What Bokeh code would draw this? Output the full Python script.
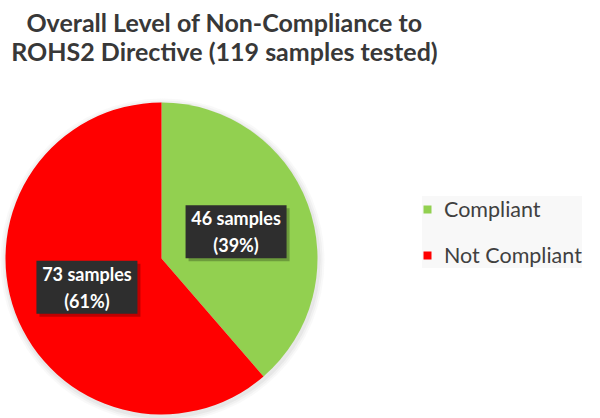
import math
from bokeh.plotting import figure
from bokeh.models import Range1d, ColumnDataSource, Legend, LegendItem
from bokeh.core.properties import value
from bokeh.embed import file_html
from bokeh.resources import INLINE

# ---- data ----
categories = ["Compliant", "Not Compliant"]
counts = [46, 73]
percents = [39, 61]
colors = ["#92D050", "#FF0000"]
title_lines = ["Overall Level of Non-Compliance to",
               "ROHS2 Directive (119 samples tested)"]

# ---- layout (page pixels; y measured upward from page bottom 418) ----
W, H = 600, 418
p = figure(width=W, height=H, output_backend="svg", toolbar_location=None,
           x_range=Range1d(0, W), y_range=Range1d(0, H),
           min_border=0, outline_line_color=None)
p.axis.visible = False
p.grid.visible = False
p.background_fill_color = "white"

cx, cy, R = 161, 418 - 258, 156

# angles: start at 12 o'clock, clockwise
total = sum(counts)
starts, ends, mids = [], [], []
a = math.pi / 2
for c in counts:
    span = 2 * math.pi * c / total
    starts.append(a - span)
    ends.append(a)
    mids.append(a - span / 2)
    a -= span

# soft shadow around pie
for k, al in [(6, 0.05), (4, 0.07), (2, 0.09)]:
    p.circle(x=[cx + 1], y=[cy - 2], radius=R + k, fill_color="#888888",
             fill_alpha=al, line_color=None)

src = ColumnDataSource(dict(x=[cx] * len(counts), y=[cy] * len(counts),
                            start=starts, end=ends, color=colors,
                            cat=categories))
wr = p.wedge(x="x", y="y", radius=R, start_angle="start", end_angle="end",
             fill_color="color", line_color=None, source=src)

# data labels
lr = 0.51 * R
lx = [cx + lr * math.cos(m) for m in mids]
ly = [cy + lr * math.sin(m) - 1 for m in mids]
ltext = [f"{c} samples\n({pc}%)" for c, pc in zip(counts, percents)]
p.rect(x=[v + 3 for v in lx], y=[v - 3 for v in ly], width=101, height=53,
       fill_color="black", fill_alpha=0.25, line_color=None)
p.rect(x=lx, y=ly, width=101, height=53, fill_color="#2e2e2e",
       line_color=None)
p.text(x=lx, y=ly, text=ltext, text_align="center", text_baseline="middle",
       text_font=value("Lato"), text_font_style="bold",
       text_font_size="18px", text_color="white", text_line_height=1.25)

# title
p.text(x=[224, 224], y=[418 - 21, 418 - 50], text=title_lines,
       text_align="center", text_baseline="alphabetic",
       text_font=value("Lato"), text_font_style="bold",
       text_font_size="25px", text_color="#383838")

# legend
items = [LegendItem(label=categories[i], renderers=[wr], index=i)
         for i in range(len(categories))]
legend = Legend(items=items, location=(422, 150), orientation="vertical",
                glyph_width=10, glyph_height=10, label_height=22,
                spacing=20, padding=12, margin=0, label_standoff=12,
                label_text_font="Lato", label_text_font_size="21.5px",
                label_text_color="#404040",
                background_fill_color="#f8f8f8", background_fill_alpha=1,
                border_line_color=None)
p.add_layout(legend, "center")

open("out.html", "w").write(file_html(p, INLINE))
